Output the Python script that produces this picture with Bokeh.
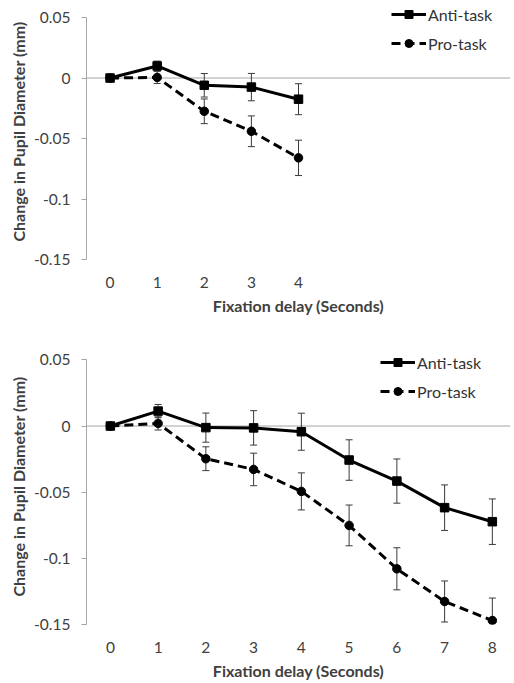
from bokeh.plotting import figure
from bokeh.models import FixedTicker, Span, Legend, LegendItem, ColumnDataSource, Range1d
from bokeh.layouts import column
from bokeh.embed import file_html
from bokeh.resources import INLINE

# ---------------- data ----------------
top_delay = [0, 1, 2, 3, 4]
top_anti = [0.0, 0.010, -0.006, -0.0075, -0.0175]
top_anti_err = [0.0, 0.004, 0.0097, 0.0113, 0.0128]
top_pro = [0.0, 0.0005, -0.0275, -0.044, -0.066]
top_pro_err = [0.0, 0.005, 0.0102, 0.0127, 0.0146]

bot_delay = [0, 1, 2, 3, 4, 5, 6, 7, 8]
bot_anti = [0.0, 0.0113, -0.0012, -0.0014, -0.0043, -0.0257, -0.0416, -0.0617, -0.0723]
bot_anti_err = [0.0, 0.005, 0.011, 0.013, 0.014, 0.0153, 0.0167, 0.0172, 0.0172]
bot_pro = [0.0, 0.002, -0.0247, -0.0328, -0.0494, -0.0751, -0.1079, -0.1326, -0.147]
bot_pro_err = [0.0, 0.005, 0.009, 0.0123, 0.014, 0.0154, 0.0159, 0.0155, 0.017]

y_ticks = [-0.15, -0.1, -0.05, 0, 0.05]
y_tick_labels = ["-0.15", "-0.1", "-0.05", "0", "0.05"]
x_title = "Fixation delay (Seconds)"
y_title = "Change in Pupil Diameter (mm)"
series_names = ["Anti-task", "Pro-task"]

FONT = "Lato"
TXT = "#404040"
GRAY = "#a6a6a6"


def panel(xs, anti, anti_err, pro, pro_err, width, height, mb_left, mb_right,
          mb_top, mb_bottom, x_end, y_end, legend_loc):
    p = figure(width=width, height=height, output_backend="svg", toolbar_location=None,
               x_range=Range1d(-0.5, x_end), y_range=Range1d(-0.15, y_end),
               min_border_left=mb_left, min_border_right=mb_right,
               min_border_top=mb_top, min_border_bottom=mb_bottom)
    p.outline_line_color = None
    p.grid.visible = False
    p.background_fill_color = "white"

    p.add_layout(Span(location=0, dimension="width", line_color=GRAY, line_width=1,
                      level="underlay"))

    # y axis
    p.yaxis.ticker = FixedTicker(ticks=y_ticks)
    p.yaxis.bounds = (min(y_ticks), max(y_ticks))
    p.yaxis.major_label_overrides = {t: l for t, l in zip(y_ticks, y_tick_labels)}
    p.yaxis.axis_line_color = GRAY
    p.yaxis.major_tick_line_color = GRAY
    p.yaxis.major_tick_out = 5
    p.yaxis.major_tick_in = 0
    p.yaxis.minor_tick_line_color = None
    p.yaxis.major_label_standoff = 11
    p.yaxis.axis_label = y_title
    p.yaxis.axis_label_standoff = 3

    # x axis
    p.xaxis.ticker = FixedTicker(ticks=xs)
    p.xaxis.axis_line_color = None
    p.xaxis.major_tick_line_color = None
    p.xaxis.minor_tick_line_color = None
    p.xaxis.major_label_standoff = 11
    p.xaxis.axis_label = x_title
    p.xaxis.axis_label_standoff = 5

    for ax in (p.xaxis, p.yaxis):
        ax.major_label_text_font = FONT
        ax.major_label_text_font_size = "15.5px"
        ax.major_label_text_color = TXT
        ax.axis_label_text_font = FONT
        ax.axis_label_text_font_size = "16px"
        ax.axis_label_text_font_style = "bold"
        ax.axis_label_text_color = TXT

    # error bars
    for ys, es in ((anti, anti_err), (pro, pro_err)):
        ex = [x for x, e in zip(xs, es) if e > 0]
        lo = [y - e for y, e in zip(ys, es) if e > 0]
        hi = [y + e for y, e in zip(ys, es) if e > 0]
        src = ColumnDataSource(dict(x=ex, lo=lo, hi=hi))
        p.segment(x0="x", y0="lo", x1="x", y1="hi", source=src, line_color="#3a3a3a",
                  line_width=1)
        p.scatter(x="x", y="lo", source=src, marker="dash", size=7, line_color="#3a3a3a",
                  line_width=1)
        p.scatter(x="x", y="hi", source=src, marker="dash", size=7, line_color="#3a3a3a",
                  line_width=1)

    src_a = ColumnDataSource(dict(x=xs, y=anti))
    src_p = ColumnDataSource(dict(x=xs, y=pro))
    la = p.line("x", "y", source=src_a, line_color="black", line_width=3)
    sa = p.scatter("x", "y", source=src_a, marker="square", size=8.5, fill_color="black",
                   line_color="black")
    lp = p.line("x", "y", source=src_p, line_color="black", line_width=3,
                line_dash="9 5")
    sp = p.scatter("x", "y", source=src_p, marker="circle", size=8.5, fill_color="black",
                   line_color="black")

    legend = Legend(items=[LegendItem(label=series_names[0], renderers=[la, sa]),
                           LegendItem(label=series_names[1], renderers=[lp, sp])],
                    location=legend_loc)
    legend.glyph_width = 35
    legend.glyph_height = 20
    legend.label_height = 20
    legend.spacing = 9
    legend.padding = 0
    legend.margin = 0
    legend.label_standoff = 2
    legend.border_line_alpha = 0
    legend.background_fill_alpha = 0
    legend.label_text_font = FONT
    legend.label_text_font_size = "16px"
    legend.label_text_color = "#333333"
    p.add_layout(legend)
    return p


top = panel(top_delay, top_anti, top_anti_err, top_pro, top_pro_err,
            width=514, height=320, mb_left=83, mb_right=4, mb_top=3, mb_bottom=61,
            x_end=8.5, y_end=0.0616, legend_loc=(305, 206))
bottom = panel(bot_delay, bot_anti, bot_anti_err, bot_pro, bot_pro_err,
               width=514, height=363, mb_left=86, mb_right=0, mb_top=28, mb_bottom=59,
               x_end=8.38, y_end=0.0586, legend_loc=(294, 223))

layout = column(top, bottom, spacing=0)
open("out.html", "w").write(file_html(layout, INLINE))
